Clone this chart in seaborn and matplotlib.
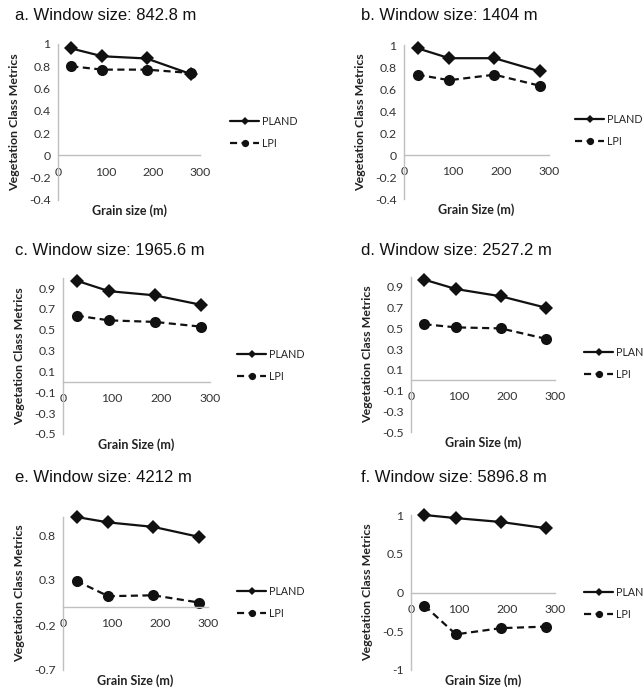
import matplotlib
matplotlib.use("Agg")
import matplotlib.pyplot as plt
import seaborn as sns

# Grain sizes (m) shared by every panel
grain_size = [28.08, 93.6, 187.2, 280.8]

# Panel titles and axis labels
titles = [
    "a. Window size: 842.8 m",
    "b. Window size: 1404 m",
    "c. Window size: 1965.6 m",
    "d. Window size: 2527.2 m",
    "e. Window size: 4212 m",
    "f. Window size: 5896.8 m",
]
xlabels = ["Grain size (m)", "Grain Size (m)", "Grain Size (m)",
           "Grain Size (m)", "Grain Size (m)", "Grain Size (m)"]
ylabel = "Vegetation Class Metrics"

# PLAND and LPI values per window size
pland_a = [0.96, 0.89, 0.87, 0.73]
lpi_a = [0.80, 0.77, 0.77, 0.74]
pland_b = [0.97, 0.88, 0.88, 0.76]
lpi_b = [0.73, 0.68, 0.73, 0.63]
pland_c = [0.97, 0.87, 0.83, 0.74]
lpi_c = [0.635, 0.59, 0.575, 0.53]
pland_d = [0.97, 0.88, 0.81, 0.70]
lpi_d = [0.54, 0.51, 0.50, 0.40]
pland_e = [1.00, 0.94, 0.89, 0.78]
lpi_e = [0.29, 0.12, 0.13, 0.05]
pland_f = [1.00, 0.96, 0.91, 0.83]
lpi_f = [-0.17, -0.54, -0.46, -0.44]

# Axis ticks
x_ticks = [0, 100, 200, 300]
y_ticks_ab = [-0.4, -0.2, 0, 0.2, 0.4, 0.6, 0.8, 1]
y_ticks_cd = [-0.5, -0.3, -0.1, 0.1, 0.3, 0.5, 0.7, 0.9]
y_ticks_e = [-0.7, -0.2, 0.3, 0.8]
y_ticks_f = [-1, -0.5, 0, 0.5, 1]

panels = [
    (pland_a, lpi_a, y_ticks_ab, (-0.4, 1.0)),
    (pland_b, lpi_b, y_ticks_ab, (-0.4, 1.0)),
    (pland_c, lpi_c, y_ticks_cd, (-0.5, 1.0)),
    (pland_d, lpi_d, y_ticks_cd, (-0.5, 1.0)),
    (pland_e, lpi_e, y_ticks_e, (-0.7, 1.0)),
    (pland_f, lpi_f, y_ticks_f, (-1.0, 1.0)),
]

W, H = 644, 690
# axes boxes in pixels: left, top, right, bottom
boxes = [
    (58, 44, 200, 200),
    (404, 45, 549, 199),
    (63, 277.6, 210, 434),
    (411, 276.6, 555, 432),
    (63, 517, 208, 670),
    (411, 515, 555, 670),
]
title_pos = [(15, 15), (361, 15), (15, 250), (361, 250), (15, 478), (361, 477)]
legend_y = [121, 119, 354, 352, 591, 592]
legend_x = [230, 575, 237, 584, 237, 584]

sns.set_style("white")
plt.rcParams["font.family"] = ["Lato", "DejaVu Sans"]

fig = plt.figure(figsize=(W / 100, H / 100), dpi=100)

axis_gray = "#bfbfbf"
ink = "#111111"

for i, (pland, lpi, yt, ylim) in enumerate(panels):
    l, t, r, b = boxes[i]
    wpx, hpx = r - l, b - t
    ax = fig.add_axes([l / W, 1 - b / H, wpx / W, hpx / H])

    sns.lineplot(x=grain_size, y=pland, ax=ax, color=ink, lw=1.6,
                 marker="D", markersize=7, markeredgewidth=0,
                 label="PLAND", errorbar=None, clip_on=False)
    sns.lineplot(x=grain_size, y=lpi, ax=ax, color=ink, lw=1.6,
                 marker="o", markersize=8, markeredgewidth=0,
                 label="LPI", errorbar=None, clip_on=False)
    ax.lines[-1].set_dashes((3.2, 2.0))

    ax.set_xlim(0, 300)
    ax.set_ylim(*ylim)
    ax.set_xticks(x_ticks, labels=[f"{v:g}" for v in x_ticks])
    ax.set_yticks(yt, labels=[f"{v:g}" for v in yt])

    for side in ("top", "right"):
        ax.spines[side].set_visible(False)
    ax.spines["left"].set_position(("data", 0))
    ax.spines["bottom"].set_position(("data", 0))
    for side in ("left", "bottom"):
        ax.spines[side].set_color(axis_gray)
        ax.spines[side].set_linewidth(1.0)

    ax.tick_params(axis="both", length=0, labelsize=8.8, labelcolor="#333333")
    ax.tick_params(axis="x", pad=8)
    ax.tick_params(axis="y", pad=5.5)

    ax.set_xlabel(xlabels[i], fontsize=9, fontweight="bold", color="#222222")
    ax.xaxis.set_label_coords(0.5, -10.5 / hpx)
    ax.xaxis.label.set_va("center")
    ax.set_ylabel(ylabel, fontsize=8.9, fontweight="bold", color="#222222")
    ax.yaxis.set_label_coords(-43 / wpx, 0.5)
    ax.yaxis.label.set_va("center")

    handles, labels = ax.get_legend_handles_labels()
    ly = (b - (legend_y[i] + 11.5)) / hpx
    lx = (legend_x[i] - l) / wpx
    leg = ax.legend(handles, labels, loc="center left", bbox_to_anchor=(lx, ly),
                    frameon=False, fontsize=7.7, handlelength=2.75,
                    handletextpad=0.25, labelspacing=1.05, borderpad=0,
                    borderaxespad=0, markerscale=0.65)
    for txt in leg.get_texts():
        txt.set_color("#222222")

    tx, ty = title_pos[i]
    fig.text(tx / W, 1 - ty / H, titles[i], ha="left", va="center",
             fontsize=12, family=["Liberation Sans", "DejaVu Sans"], color="#111111")

fig.savefig("out.png", dpi=100)
